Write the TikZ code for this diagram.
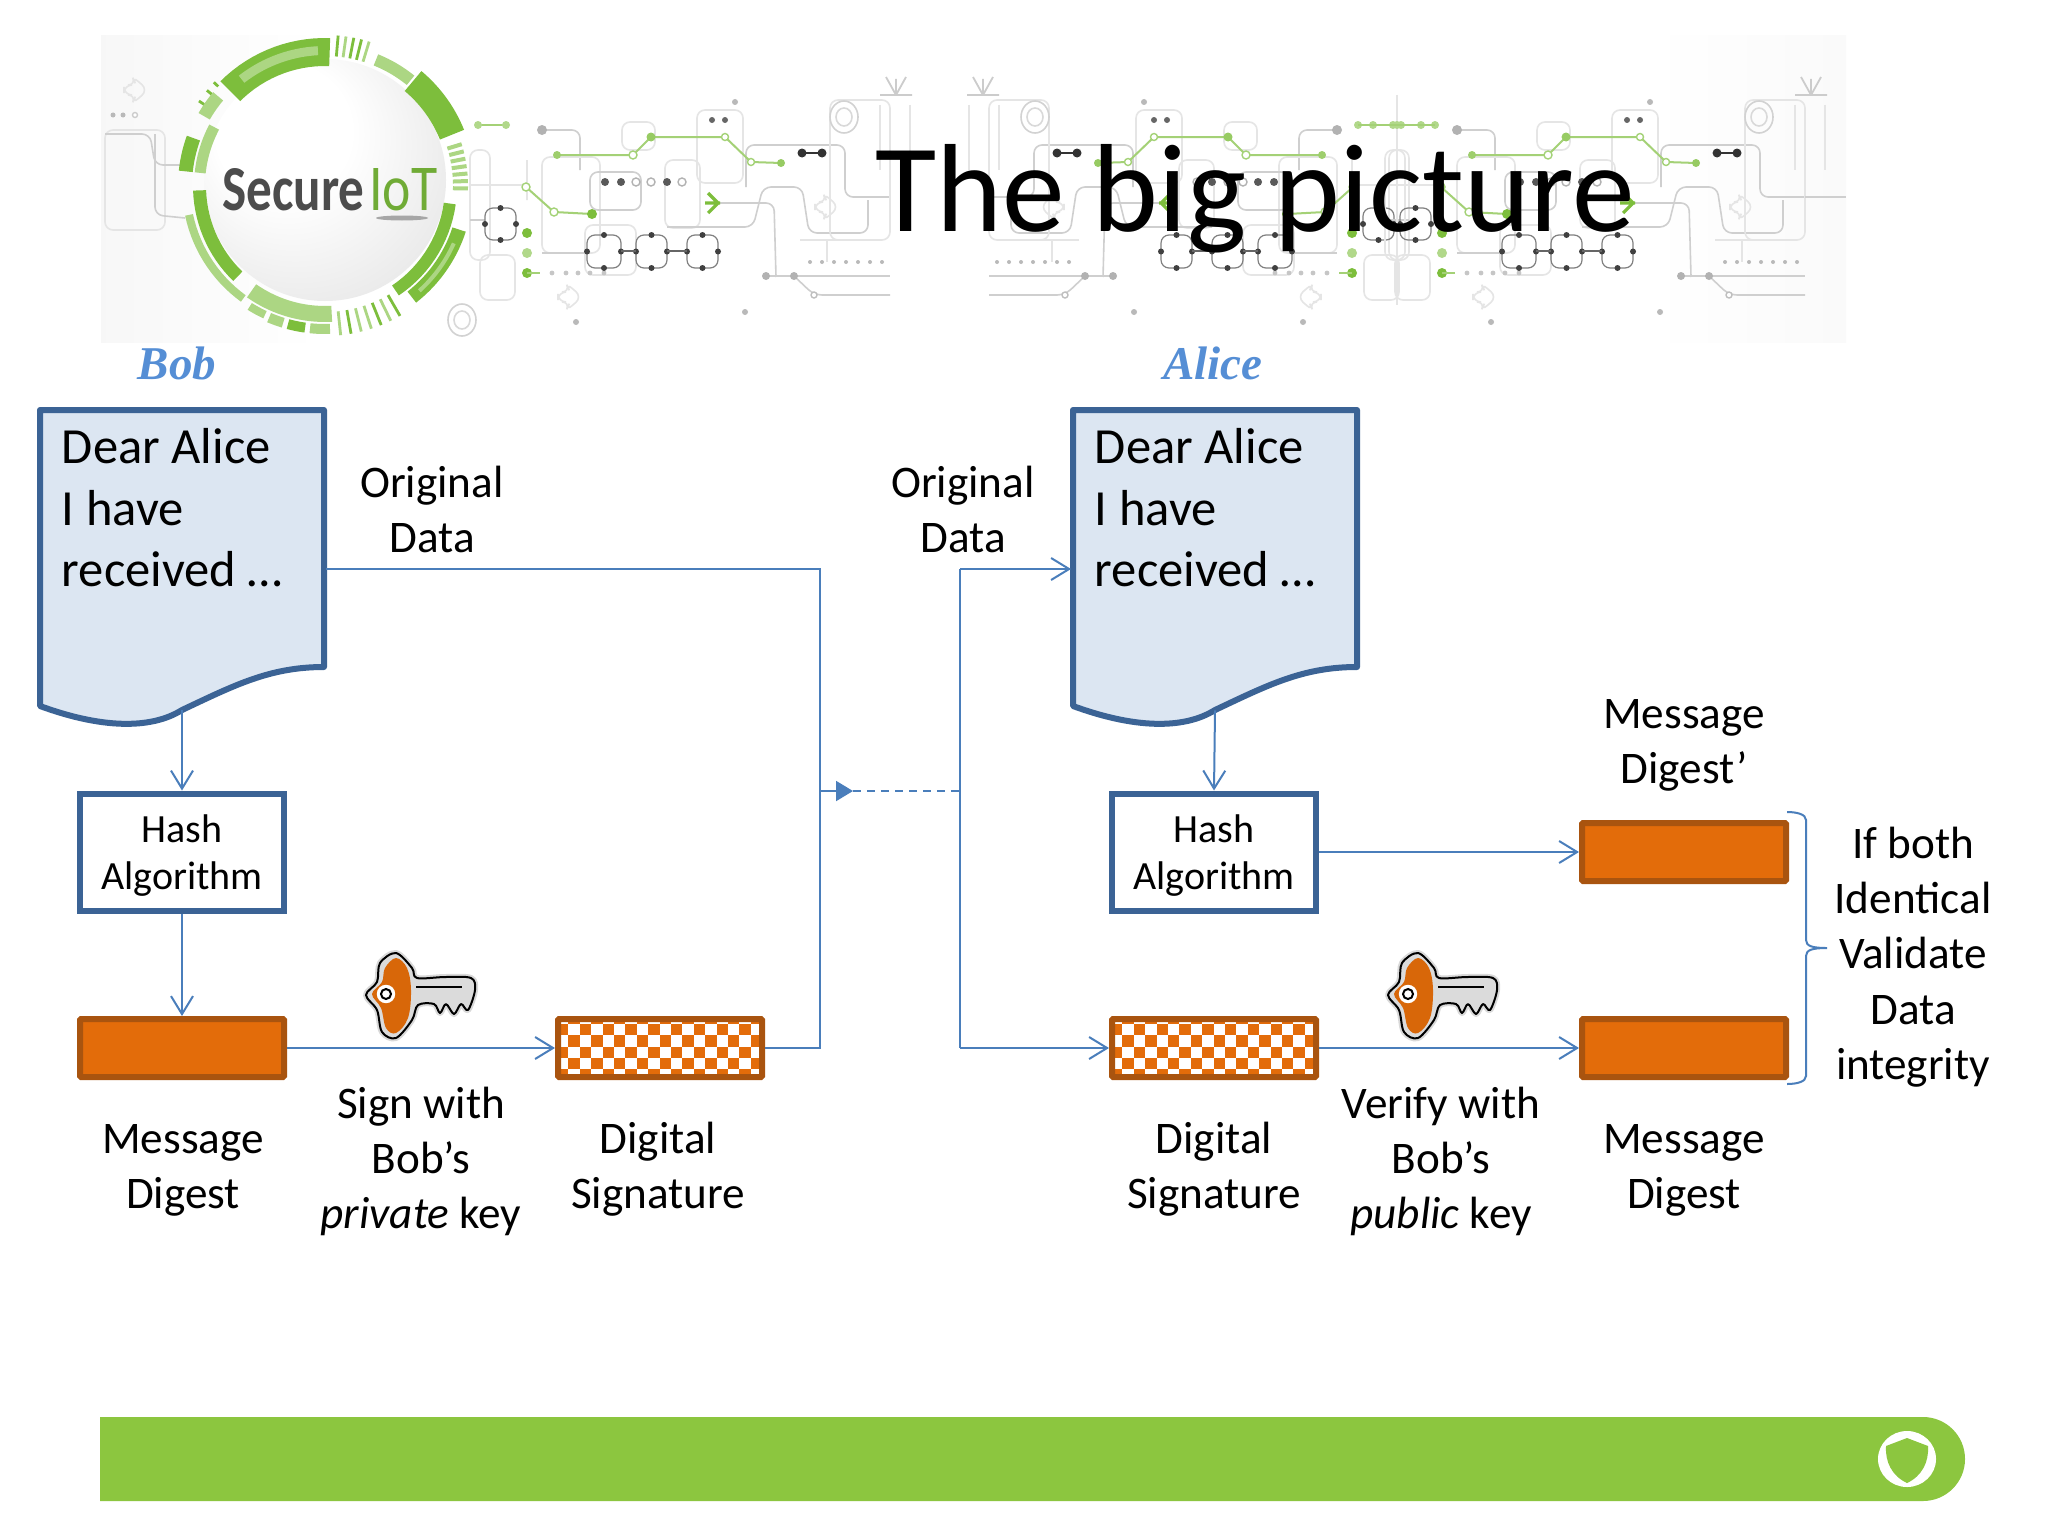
\documentclass[tikz,border=0pt]{standalone}
\usepackage{fontspec}
\usepackage{graphicx}
\setmainfont{Carlito}
\newfontfamily\scriptlike{Liberation Serif}
\usetikzlibrary{arrows.meta}
\definecolor{docfill}{HTML}{DCE6F2}
\definecolor{docline}{HTML}{3B6395}
\definecolor{conn}{HTML}{4A7EBB}
\definecolor{orangef}{HTML}{E36C0A}
\definecolor{oranged}{HTML}{A9540F}
\definecolor{dg}{HTML}{7DBE3C}
\definecolor{lg}{HTML}{ACD683}
\definecolor{foot}{HTML}{8CC63F}
\definecolor{bobblue}{HTML}{558ED5}
\tikzset{
  wire/.style={draw=conn,line width=1pt},
  openarrow/.style={wire,-{Straight Barb[length=9pt,width=11pt,line width=1pt]}},
  docshape/.style={fill=docfill,draw=docline,line width=3pt,line join=round},
  hashbox/.style={draw=docline,fill=white,line width=3pt,minimum width=102pt,minimum height=58.5pt,inner sep=0pt},
  digestbox/.style={draw=oranged,line width=3pt,minimum width=102pt,minimum height=29pt,inner sep=0pt,rounded corners=.6pt},
  doctext/.style={inner sep=0pt,anchor=base west,font=\fontsize{25.3}{30.75}\selectfont},
  lbl/.style={inner sep=0pt,anchor=base,font=\fontsize{22.6}{27.6}\selectfont},
  hashtext/.style={inner sep=0pt,anchor=base,font=\fontsize{20}{23.6}\selectfont},
  whotext/.style={inner sep=0pt,anchor=base,text=bobblue,font=\scriptlike\bfseries\itshape\fontsize{23.5}{28}\selectfont},
  gl/.style={draw=gray!38,line width=.8pt,rounded corners=4pt},
  gll/.style={draw=gray!20,line width=.8pt,rounded corners=4pt},
  gn/.style={draw=dg!70,line width=1pt,rounded corners=2pt},
  oc/.style={draw=black!50,line width=.6pt,rounded corners=4pt},
}
\newcommand{\ctr}[1]{\vtop{\halign{\hfil##\hfil\cr #1\crcr}}}
\newcommand{\lft}[1]{\vtop{\halign{##\hfil\cr #1\crcr}}}
\newcommand{\dd}[4]{\fill[#1] (#2,#3) circle[radius=#4];}
\newcommand{\hd}[4]{\draw[#1,line width=.7pt,fill=white] (#2,#3) circle[radius=#4];}
\newcommand{\seg}[5]{\fill[#1] plot[domain=#2:#3,samples=16] ({325+#4*cos(\x)},{186-#4*sin(\x)}) -- plot[domain=#3:#2,samples=16] ({325+#5*cos(\x)},{186-#5*sin(\x)}) -- cycle;}
\newcommand{\tck}[4]{\draw[line width=1.4pt,#1] ({325+#3*cos(#2)},{186-#3*sin(#2)}) -- ({325+#4*cos(#2)},{186-#4*sin(#2)});}
\newcommand{\octa}[4]{\draw[oc] (#1,#2) rectangle (#3,#4);
  \dd{black!75}{#1}{{(#2+#4)/2}}{3}\dd{black!75}{#3}{{(#2+#4)/2}}{3}\dd{black!75}{{(#1+#3)/2}}{#2}{3}\dd{black!75}{{(#1+#3)/2}}{#4}{3}}
\newcommand{\chev}[2]{\draw[gll] (#1-12,#2-5)--(#1,#2-5)--(#1-4,#2-14)--(#1+12,#2)--(#1-4,#2+14)--(#1,#2+5)--(#1-12,#2+5)--cycle;}
\newcommand{\target}[2]{\draw[gray!35,line width=.8pt] (#1,#2) ellipse[x radius=14,y radius=16];\draw[gray!30,line width=.8pt] (#1,#2) ellipse[x radius=8,y radius=9];}
\newcommand{\antenna}[2]{\draw[gray!40,line width=.9pt] (#1-16,#2+10)--(#1+16,#2+10) (#1,#2+10)--(#1-10,#2-8) (#1,#2+10)--(#1,#2-6) (#1,#2+10)--(#1+10,#2-8);}
\newcommand{\tile}{%
  \draw[gl] (542,130)--(580,130)--(580,170);
  \draw[gll] (542,157) rectangle (600,253);
  \draw[gl] (590,172) rectangle (641,210);
  \draw[gll] (622,122) rectangle (655,150);
  \draw[gll] (697,110) rectangle (743,183);
  \draw[gll] (665,160) rectangle (700,228);
  \draw[gl] (667,227)--(753,227)--(763,187)--(802,187)--(809,233)--(868,233)--(868,200);
  \draw[gl] (746,187)--(746,145)--(845,145)--(845,197)--(890,197);
  \draw[gl] (542,253)--(590,253);
  \draw[gll] (585,225) rectangle (636,275);
  \draw[gll] (527,160)--(527,200) (470,150) rectangle (490,260);
  \draw[gll] (470,185)--(527,185);
  \draw[gll] (480,255) rectangle (515,300);
  \draw[gll] (830,100) rectangle (890,240);
  \draw[gl] (470,220)--(485,220);
  \draw[gl] (720,203)--(774,203)--(776,277);
  \draw[gl] (766,276)--(890,276);
  \draw[gl] (794,276)--(814,295)--(890,295);
  \draw[gll] (800,240)--(880,240) (827,240)--(827,262);
  \dd{gray!60}{766}{276}{4}\dd{gray!60}{794}{276}{4}\hd{gray!50}{814}{295}{3}
  \dd{gray!60}{542}{130}{5}\dd{gray!55}{735}{102}{3}\dd{gray!55}{576}{322}{3}\dd{gray!55}{745}{312}{3}
  \foreach \q in {810,822,834,846,858,870,882}{\dd{gray!55}{\q}{262}{2}}
  \foreach \q in {552,566,578,590,604}{\dd{gray!45}{\q}{273}{2.4}}
  % green
  \draw[gn] (557,155)--(633,155)--(651,137)--(725,137)--(751,162)--(781,163);
  \draw[gn] (478,125)--(506,125);
  \draw[gn] (526,187)--(554,212)--(592,214);
  \dd{dg!75}{557}{155}{4}\hd{dg!70}{633}{155}{4}\dd{dg!80}{651}{137}{4.5}\hd{dg!70}{725}{137}{3.5}\hd{dg!70}{751}{162}{3.5}\dd{dg!80}{781}{163}{4}
  \dd{dg!60}{478}{125}{4}\dd{dg!60}{506}{125}{4}
  \hd{dg!70}{526}{187}{4}\hd{dg!70}{554}{212}{4}\dd{dg}{592}{214}{5}
  \dd{dg}{527}{233}{5}\dd{dg!60}{527}{253}{5}\dd{dg}{527}{273}{5}
  \draw[gn] (527,273)--(540,273);
  % dots
  \dd{black!65}{605}{182}{4}\dd{black!65}{621}{182}{4}\hd{gray!60}{636}{182}{4}\hd{gray!60}{651}{182}{4}\dd{black!65}{667}{182}{4}\hd{gray!60}{682}{182}{4}
  \dd{black!80}{802}{153}{4.5}\dd{black!80}{822}{153}{4.5}\draw[black!80,line width=.8pt] (802,153)--(822,153);
  \dd{black!60}{712}{120}{3}\dd{black!60}{725}{120}{3}
  % squares
  \octa{485}{208}{516}{240}
  \octa{587}{235}{621}{268}
  \octa{636}{235}{667}{268}
  \octa{687}{235}{718}{268}
  \draw[black!60,line width=.8pt] (621,251)--(636,251) (667,251)--(687,251);
  % arrows, icons
  \draw[dg,line width=1.6pt] (720,203)--(705,203) (708,193)--(718,203)--(708,213);
  \chev{570}{297}\chev{827}{207}
  \target{844}{117}
  \antenna{896}{85}
  \draw[gll] (880,105)--(880,170) (910,105)--(910,170);
}
\newcommand{\keyicon}{%
  \draw[gray!30,line width=3pt,fill=gray!30,line join=round] plot[smooth cycle,tension=.55] coordinates {(396,953)(412,968)(417,978)(445,977)(471,978)(475,990)(468,1010)(461,1004)(454,1014)(446,1004)(440,1013)(434,1004)(418,1005)(412,1020)(396,1038)(382,1032)(377,1010)(366,995)(377,982)(380,963)};
  \draw[black,line width=1pt,fill=gray!28,line join=round] plot[smooth cycle,tension=.55] coordinates {(396,953)(412,968)(417,978)(445,977)(471,978)(475,990)(468,1010)(461,1004)(454,1014)(446,1004)(440,1013)(434,1004)(418,1005)(412,1020)(396,1038)(382,1032)(377,1010)(366,995)(377,982)(380,963)};
  \fill[orangef!95!black] plot[smooth cycle,tension=.6] coordinates {(396,958)(407,968)(411,990)(408,1018)(396,1033)(386,1028)(381,1008)(372,994)(382,982)(385,968)};
  \draw[black,line width=1pt] (416,987)--(462,987);
  \draw[white,line width=1.2pt,fill=white] (386,994) circle[radius=8];
  \draw[black,line width=1pt,fill=white] (386,994) circle[radius=5];
}
\newcommand{\checker}[1]{%
  \begin{scope}
    \clip (#1-102,1019) rectangle (#1+102,1077);
    \fill[white] (#1-102,1019) rectangle (#1+102,1077);
    \foreach \i in {0,...,18}{\foreach \j in {0,...,6}{%
      \pgfmathtruncatemacro{\pp}{mod(\i+\j,2)}%
      \ifnum\pp=0
        \fill[orangef] ({#1-91.6+\i*11.4},{1013+\j*11.2}) rectangle ++(11.4,11.2);
      \fi
      \ifnum\i=0 \pgfmathtruncatemacro{\pq}{mod(\j,2)}\ifnum\pq=1
        \fill[orangef] ({#1-103},{1013+\j*11.2}) rectangle ++(11.4,11.2);\fi\fi
    }}
  \end{scope}}
\newcommand{\docpath}[1]{%
  \draw[docshape] (#1+40,410) -- (#1+324,410) -- (#1+324,667)
    .. controls (#1+270,667) and (#1+235,685) .. (#1+182,710)
    .. controls (#1+150,730) and (#1+100,728) .. (#1+40,706) -- cycle;}
\begin{document}
\begin{tikzpicture}[x=.5pt,y=-.5pt]
\useasboundingbox (0,0) rectangle (2048,1536);
\fill[white] (0,0) rectangle (2048,1536);
% banner
\begin{scope}
  \clip (101,36) rectangle (1846,342);
  \shade[left color=gray!6,right color=white] (101,36) rectangle (320,342);
  \shade[left color=white,right color=gray!4] (1650,36) rectangle (1846,342);
  \draw[gll] (105,130) rectangle (165,230);
  \draw[gl] (105,134)--(150,134)--(155,165)--(185,165);
  \draw[gl] (155,134)--(155,215)--(185,218);
  \dd{gray!55}{113}{115}{2.5}\dd{gray!55}{123}{115}{2.5}\hd{gray!40}{135}{115}{2.5}
  \chev{136}{90}
  \tile
  \begin{scope}[shift={(1879,0)},xscale=-1]\tile\end{scope}
  \begin{scope}[shift={(915,0)}]\tile\end{scope}
  \target{462}{320}
  \draw[gl] (1805,197)--(1846,197);
  \draw[gll] (1397,95)--(1397,305);
  \dd{dg!60}{1358}{125}{4}\dd{dg!60}{1397}{125}{4}\dd{dg!60}{1435}{125}{4}\draw[gn] (1358,125)--(1435,125);
\end{scope}
% logo
\pgfdeclareradialshading{discshade}{\pgfpoint{-12bp}{14bp}}{color(0bp)=(white);color(14bp)=(white);color(34bp)=(gray!18);color(50bp)=(gray!50)}
\shade[shading=discshade] (325,180) circle[radius=121];
\seg{dg}{88}{135}{120}{148}
\seg{lg}{93}{128}{131}{140}
\foreach \a/\cc in {85/dg,82/lg,79/dg,76/dg,73/lg}{\tck{\cc}{\a}{130}{151}}
\seg{lg}{51}{68}{130}{142}
\seg{dg}{22}{50}{124}{150}
\foreach \a in {17,14,11,8,5,2,-1}{\tck{lg,line width=2pt}{\a}{128}{143}}
\seg{dg}{-8}{-56}{120}{132}
\seg{dg}{-18}{-52}{134}{148}
\seg{lg}{-24}{-48}{139}{143}
\foreach \a/\cc in {-60/dg,-64/lg,-68/dg,-72/lg,-76/lg,-80/dg,-84/lg}{\tck{\cc}{\a}{126}{150}}
\seg{lg}{-87}{-125}{120}{136}
\seg{lg}{-88}{-96}{138}{148}
\seg{dg}{-98}{-105}{138}{148}
\seg{lg}{-107}{-113}{138}{148}
\seg{lg}{-115}{-122}{138}{146}
\seg{dg}{182}{226}{119}{132}
\seg{lg}{192}{234}{135}{143}
\seg{dg}{160}{174}{133}{147}
\seg{lg}{152}{174}{120}{131}
\seg{lg}{140}{150}{133}{146}
\foreach \a in {137,141,146}{\tck{dg}{\a}{146}{152}}
\node[inner sep=0pt,anchor=base west] (securetxt) at (222,210) {\resizebox{71pt}{21pt}{\color{black!70}\bfseries Secure}};
\node[inner sep=0pt,anchor=base west] (iottxt) at (369,210) {\resizebox{34pt}{21pt}{\color{dg!90!black}IoT}};
\fill[gray!70] (402,218) ellipse[x radius=26,y radius=2.5];
% title
\node[inner sep=0pt,anchor=base] (title) at (1255,231) {\fontsize{62.7}{72}\selectfont The big picture};
% names
\node[whotext] (bob) at (177,379) {Bob};
\node[whotext] (alice) at (1213,379) {Alice};
% documents
\docpath{0}
\docpath{1033}
\node[inner sep=0pt,minimum width=142pt,minimum height=150pt] (doc1) at (182,560) {};
\node[inner sep=0pt,minimum width=142pt,minimum height=150pt] (doc2) at (1215,560) {};
\node[doctext] (doc1txt) at (61.5,463.5) {\lft{Dear Alice\cr I have\cr received …}};
\node[doctext] (doc2txt) at (1094.5,463.5) {\lft{Dear Alice\cr I have\cr received …}};
\coordinate (doc1out) at (326,569);
\coordinate (doc2in) at (1071,569);
% boxes
\node[hashbox] (hash1) at (182,852) {};
\node[hashbox] (hash2) at (1214,852) {};
\node[hashtext] (hash1txt) at (182,842.5) {\ctr{Hash\cr Algorithm}};
\node[hashtext] (hash2txt) at (1214,842.5) {\ctr{Hash\cr Algorithm}};
\node[digestbox,fill=orangef] (digest1) at (182,1048) {};
\checker{660}
\node[digestbox] (sig1) at (660,1048) {};
\checker{1214}
\node[digestbox] (sig2) at (1214,1048) {};
\node[digestbox,fill=orangef] (out1) at (1684,852) {};
\node[digestbox,fill=orangef] (out2) at (1684,1048) {};
% keys
\keyicon
\begin{scope}[shift={(1022,0)}]\keyicon\end{scope}
% routing points
\coordinate (bendA) at (820,569);
\coordinate (bendB) at (820,1048);
\coordinate (busL) at (820,791);
\coordinate (tipc) at (853,791);
\coordinate (busR) at (960,791);
\coordinate (bendC) at (960,569);
\coordinate (bendD) at (960,1048);
% connectors
\draw[wire] (doc1out) -- (bendA) -- (bendB) -- (sig1.east);
\draw[openarrow] (doc1.south) -- (hash1.north);
\draw[openarrow] (hash1.south) -- (digest1.north);
\draw[openarrow] (digest1.east) -- (sig1.west);
\draw[wire,-{Triangle[length=8.5pt,width=10pt]}] (busL) -- (tipc);
\draw[wire,dash pattern=on 4pt off 3pt] (tipc) -- (busR);
\draw[openarrow] (bendC) -- (doc2in);
\draw[wire] (bendC) -- (bendD);
\draw[openarrow] (bendD) -- (sig2.west);
\draw[openarrow] (doc2.south) -- (hash2.north);
\draw[openarrow] (hash2.east) -- (out1.west);
\draw[openarrow] (sig2.east) -- (out2.west);
% bracket
\coordinate (brT) at (1787,812);
\coordinate (brB) at (1787,1084);
\coordinate (brM) at (1827,948);
\draw[wire] (brT) .. controls (1796,812) and (1806,814) .. (1806,820) -- (1806,940)
  .. controls (1806,946) and (1812,948) .. (brM)
  .. controls (1812,948) and (1806,950) .. (1806,956) -- (1806,1076)
  .. controls (1806,1082) and (1796,1084) .. (brB);
% labels
\node[lbl] (l1) at (432,497.3) {\ctr{Original\cr Data}};
\node[lbl] (l2) at (963,497.3) {\ctr{Original\cr Data}};
\node[lbl] (l3) at (183,1153) {\ctr{Message\cr Digest}};
\node[lbl] (l4) at (421,1118.3) {\ctr{Sign with\cr Bob’s\cr \textit{private} key}};
\node[lbl] (l5) at (658,1153) {\ctr{Digital\cr Signature}};
\node[lbl] (l6) at (1214,1153) {\ctr{Digital\cr Signature}};
\node[lbl] (l7) at (1441,1118.3) {\ctr{Verify with\cr Bob’s\cr \textit{public} key}};
\node[lbl] (l8) at (1684,1153) {\ctr{Message\cr Digest}};
\node[lbl] (l9) at (1684,728) {\ctr{Message\cr Digest’}};
\node[lbl] (l10) at (1913,858.5) {\ctr{If both\cr Identical\cr Validate\cr Data\cr integrity}};
% footer
\fill[foot] (100,1417) {[rounded corners=21pt] -- (1965,1417) -- (1965,1501)} -- (100,1501) -- cycle;
\fill[white] (1907,1459) ellipse[x radius=29,y radius=28];
\fill[foot] (1907,1438) -- (1886,1446) .. controls (1885,1462) and (1892,1476) .. (1907,1483) .. controls (1922,1476) and (1929,1462) .. (1928,1446) -- cycle;
\end{tikzpicture}
\end{document}
